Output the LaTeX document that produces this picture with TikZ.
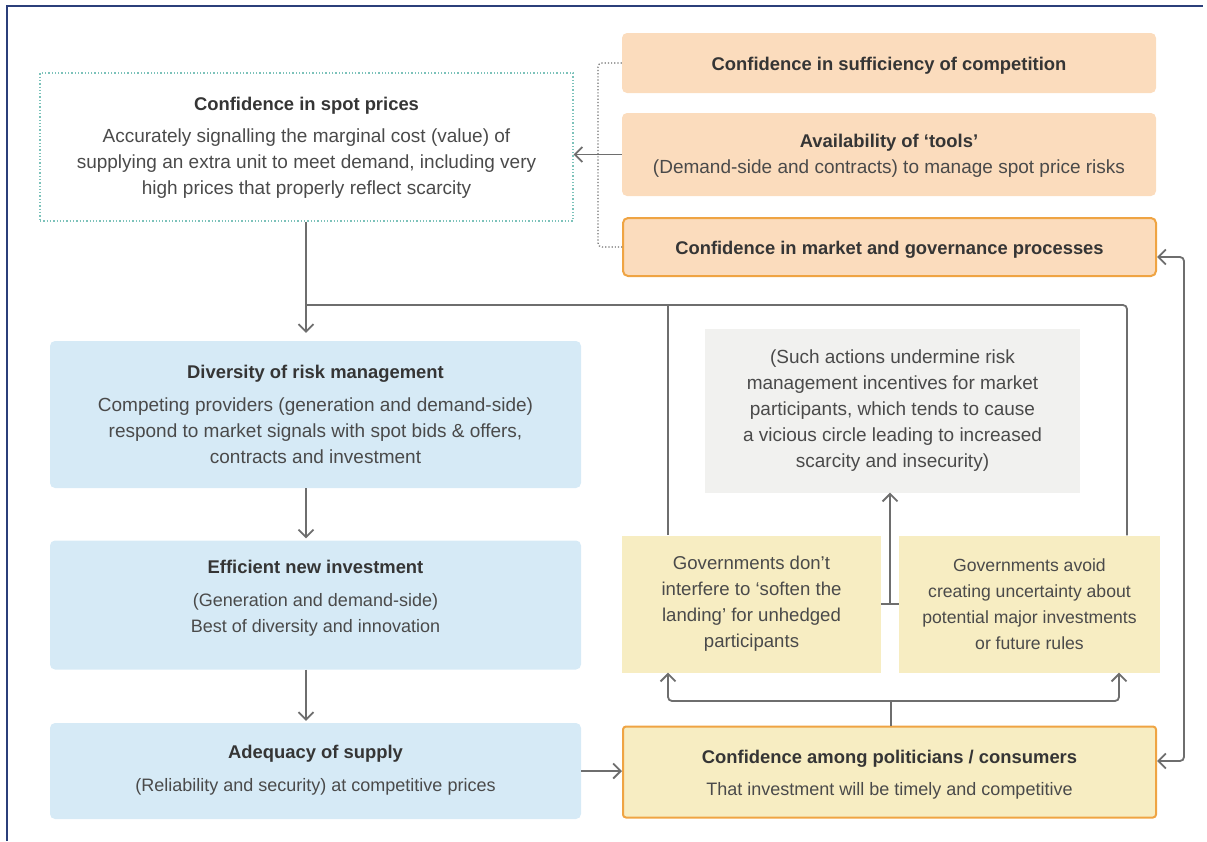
\documentclass[tikz,border=0pt]{standalone}
\usepackage{fontspec}
\setmainfont{Liberation Sans}
\usetikzlibrary{arrows.meta}
\definecolor{orangef}{HTML}{FBDCBD}
\definecolor{orangeb}{HTML}{EFA443}
\definecolor{bluef}{HTML}{D6EAF6}
\definecolor{yellowf}{HTML}{F7EDC2}
\definecolor{grayf}{HTML}{F1F1EF}
\definecolor{tealc}{HTML}{7CC2BA}
\definecolor{linec}{HTML}{6E6E6E}
\definecolor{titlec}{HTML}{353535}
\definecolor{bodyc}{HTML}{4A4A4A}
\definecolor{framec}{HTML}{2B3F7A}
\newcommand\boxtitle[2][18.4]{{\fontsize{#1}{26}\selectfont\bfseries\color{titlec}#2}}
\newcommand\fsz[1]{\fontsize{#1}{26}\selectfont}
\begin{document}
\begin{tikzpicture}[x=1pt,y=-1pt,
  box/.style={rounded corners=5pt, inner sep=0pt, anchor=center},
  txt/.style={align=center, font=\fontsize{19}{26}\selectfont, text=bodyc, inner sep=0pt},
  conn/.style={draw=linec, line width=1.8pt},
  tip/.style={-{Straight Barb[length=7.5pt,width=15pt]}},
]
\useasboundingbox (0,0) rectangle (1207,841);
\draw[framec, line width=1.5pt] (7,841) -- (7,6) -- (1203,6);

% boxes
\node[box, draw=tealc, dotted, line width=1.3pt, rounded corners=0pt, minimum width=533pt, minimum height=148pt] (spot) at (306.5,147) {};
\node[box, fill=orangef, minimum width=534pt, minimum height=60pt] (comp) at (889,63) {};
\node[box, fill=orangef, minimum width=534pt, minimum height=83pt] (tools) at (889,154.5) {};
\node[box, fill=orangef, draw=orangeb, line width=2pt, minimum width=533pt, minimum height=58pt] (gov) at (889.5,247) {};
\node[box, fill=bluef, minimum width=531pt, minimum height=147pt] (div) at (315.5,414.5) {};
\node[box, fill=bluef, minimum width=531pt, minimum height=129pt] (eff) at (315.5,605) {};
\node[box, fill=bluef, minimum width=531pt, minimum height=96pt] (ade) at (315.5,771) {};
\node[box, fill=grayf, rounded corners=0pt, minimum width=375pt, minimum height=164pt] (such) at (892.5,410.5) {};
\node[box, fill=yellowf, rounded corners=0pt, minimum width=259pt, minimum height=137pt] (gd) at (751.5,604) {};
\node[box, fill=yellowf, rounded corners=0pt, minimum width=261pt, minimum height=137pt] (ga) at (1029.5,604) {};
\node[box, fill=yellowf, draw=orangeb, line width=2pt, rounded corners=3pt, minimum width=533pt, minimum height=91pt] (cap) at (889.5,772) {};

% texts
\node[txt] (spott) at (306.5,148) {\boxtitle{Confidence in spot prices}\\[6pt]
  Accurately signalling the marginal cost (value) of\\
  supplying an extra unit to meet demand, including very\\
  high prices that properly reflect scarcity};
\node[txt] (compt) at (889,65.5) {\boxtitle{Confidence in sufficiency of competition}};
\node[txt] (toolst) at (889,156) {\boxtitle{Availability of ‘tools’}\\
  (Demand-side and contracts) to manage spot price risks};
\node[txt] (govt) at (889.5,249.5) {\boxtitle[18.35]{Confidence in market and governance processes}};
\node[txt] (divt) at (315.5,414) {\boxtitle{Diversity of risk management}\\[7pt]
  Competing providers (generation and demand-side)\\
  respond to market signals with spot bids \& offers,\\
  contracts and investment};
\node[txt, font=\fsz{18}] (efft) at (315.5,598) {\boxtitle{Efficient new investment}\\[7pt]
  (Generation and demand-side)\\
  Best of diversity and innovation};
\node[txt, font=\fsz{18}] (adet) at (315.5,770.5) {\boxtitle{Adequacy of supply}\\[7pt]
  (Reliability and security) at competitive prices};
\node[txt] (sucht) at (892.5,410.5) {(Such actions undermine risk\\
  management incentives for market\\
  participants, which tends to cause\\
  a vicious circle leading to increased\\
  scarcity and insecurity)};
\node[txt, font=\fsz{18.6}] (gdt) at (751.5,604) {Governments don’t\\
  interfere to ‘soften the\\
  landing’ for unhedged\\
  participants};
\node[txt, font=\fsz{17.6}] (gat) at (1029.5,604) {Governments avoid\\
  creating uncertainty about\\
  potential major investments\\
  or future rules};
\node[txt, font=\fsz{18}] (capt) at (889.5,775) {\boxtitle{Confidence among politicians / consumers}\\[6pt]
  That investment will be timely and competitive};

% coordinates
\coordinate (ax) at (306,0);
\coordinate (dotx) at (598,0);
\coordinate (j1) at (306,305);
\coordinate (j2) at (668,305);
\coordinate (tb) at (890,603.5);
\coordinate (cj) at (891,701);
\coordinate (rx) at (1184,500);

% connectors
\draw[conn, tip] (tools.west) -- (spot.east |- tools.west);
\draw[linec, dotted, line width=1.2pt, rounded corners=4pt] (comp.west) -| (dotx |- gov.west) -- (gov.west);
\draw[conn, tip] (ax |- spot.south) -- ([yshift=8pt]ax |- div.north);
\draw[conn, rounded corners=4pt] (j1) -| ([xshift=97.5pt]ga.north);
\draw[conn] (j2) -- (j2 |- gd.north);
\draw[conn, tip] (ax |- div.south) -- ([yshift=2pt]ax |- eff.north);
\draw[conn, tip] (ax |- eff.south) -- ([yshift=2pt]ax |- ade.north);
\draw[conn, tip] (ade.east) -- (cap.west |- ade.east);
\draw[conn] (gd.east) -- (ga.west);
\draw[conn, tip] (tb) -- (tb |- such.south);
\draw[conn] (cap.north -| cj) -- (cj);
\draw[conn, tip, rounded corners=4pt] (cj) -| ([xshift=-83.5pt]gd.south);
\draw[conn, tip, rounded corners=4pt] (cj) -| ([xshift=89.5pt]ga.south);
\draw[conn, {Straight Barb[length=7.5pt,width=15pt]}-{Straight Barb[length=7.5pt,width=15pt]}, rounded corners=4pt]
  ([yshift=-10pt]gov.east) -| (rx) |- ([yshift=11pt]cap.east);
\end{tikzpicture}
\end{document}
